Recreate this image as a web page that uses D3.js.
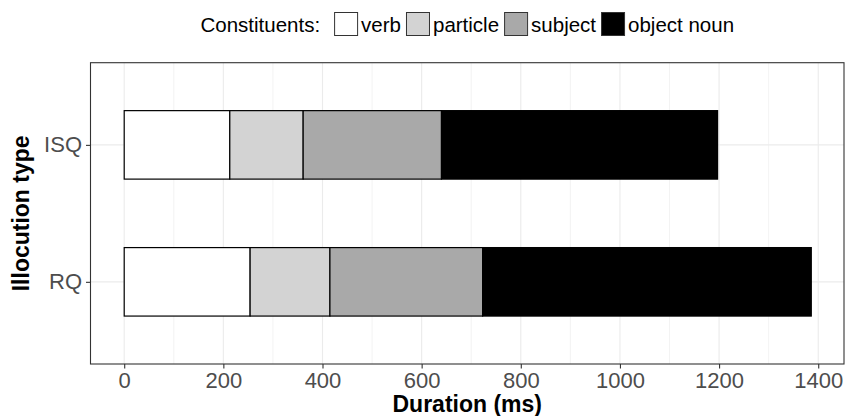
<!DOCTYPE html>
<html>
<head>
<meta charset="utf-8">
<script src="https://cdn.jsdelivr.net/npm/d3@7"></script>
<style>
  body { margin: 0; background: #fff; }
  text { font-family: "Liberation Sans", Arial, Helvetica, sans-serif; }
</style>
</head>
<body>
<div id="chart-area"></div>
<script>
// Data (durations in ms)
const illocutions = ["ISQ", "RQ"];
const constituents = ["verb", "particle", "subject", "object noun"];
const verbDur = [213, 254];
const particleDur = [148, 161];
const subjectDur = [279, 308];
const objectDur = [557, 663];
const xTicks = [0, 200, 400, 600, 800, 1000, 1200, 1400];
const xMinor = [100, 300, 500, 700, 900, 1100, 1300];

const fills = ["#ffffff", "#d3d3d3", "#a9a9a9", "#000000"];

const width = 845;
const height = 416;
const panel = { LEFT: 90.5, RIGHT: 844, TOP: 62.7, BOTTOM: 364 };

const svg = d3.select("#chart-area").append("svg")
  .attr("width", width)
  .attr("height", height);

// build rows for the stack
const rows = illocutions.map((type, i) => ({
  type: type,
  "verb": verbDur[i],
  "particle": particleDur[i],
  "subject": subjectDur[i],
  "object noun": objectDur[i]
}));
const series = d3.stack().keys(constituents)(rows);

// Scales
const x = d3.scaleLinear()
  .domain([-68, 1452])
  .range([panel.LEFT, panel.RIGHT]);
const y = d3.scalePoint()
  .domain(illocutions)
  .range([panel.TOP, panel.BOTTOM])
  .padding(0.6);
const barH = y.step() * 0.5;
const color = d3.scaleOrdinal().domain(constituents).range(fills);

// Panel background + grid
svg.append("rect")
  .attr("x", panel.LEFT).attr("y", panel.TOP)
  .attr("width", panel.RIGHT - panel.LEFT)
  .attr("height", panel.BOTTOM - panel.TOP)
  .attr("fill", "#fff");

const grid = svg.append("g");
grid.selectAll(".minor").data(xMinor).enter().append("line")
  .attr("x1", d => x(d)).attr("x2", d => x(d))
  .attr("y1", panel.TOP).attr("y2", panel.BOTTOM)
  .attr("stroke", "#ebebeb").attr("stroke-width", 0.6);
grid.selectAll(".major").data(xTicks).enter().append("line")
  .attr("x1", d => x(d)).attr("x2", d => x(d))
  .attr("y1", panel.TOP).attr("y2", panel.BOTTOM)
  .attr("stroke", "#ebebeb").attr("stroke-width", 1.1);
grid.selectAll(".hmajor").data(illocutions).enter().append("line")
  .attr("x1", panel.LEFT).attr("x2", panel.RIGHT)
  .attr("y1", d => y(d)).attr("y2", d => y(d))
  .attr("stroke", "#ebebeb").attr("stroke-width", 1.1);

// Bars
svg.append("g").selectAll("g")
  .data(series).enter().append("g")
  .attr("fill", d => color(d.key))
  .selectAll("rect")
  .data(d => d).enter().append("rect")
  .attr("x", d => x(d[0]))
  .attr("width", d => x(d[1]) - x(d[0]))
  .attr("y", d => y(d.data.type) - barH / 2)
  .attr("height", barH)
  .attr("stroke", "#000")
  .attr("stroke-width", 1.2);

// Panel border
svg.append("rect")
  .attr("x", panel.LEFT).attr("y", panel.TOP)
  .attr("width", panel.RIGHT - panel.LEFT)
  .attr("height", panel.BOTTOM - panel.TOP)
  .attr("fill", "none")
  .attr("stroke", "#333333")
  .attr("stroke-width", 1.1);

// X Axis
const xAxisCall = d3.axisBottom(x)
  .tickValues(xTicks)
  .tickSize(4.5)
  .tickPadding(4)
  .tickFormat(d3.format("d"));
const xAxis = svg.append("g")
  .attr("transform", `translate(0, ${panel.BOTTOM})`)
  .call(xAxisCall);
xAxis.select(".domain").remove();
xAxis.selectAll(".tick line").attr("stroke", "#333333").attr("stroke-width", 1.1);
xAxis.selectAll(".tick text")
  .attr("fill", "#4d4d4d")
  .attr("font-size", "22px")
  .attr("font-family", "Liberation Sans, Arial, sans-serif");

// Y Axis
const yAxisCall = d3.axisLeft(y)
  .tickSize(4.5)
  .tickPadding(4);
const yAxis = svg.append("g")
  .attr("transform", `translate(${panel.LEFT}, 0)`)
  .call(yAxisCall);
yAxis.select(".domain").remove();
yAxis.selectAll(".tick line").attr("stroke", "#333333").attr("stroke-width", 1.1);
yAxis.selectAll(".tick text")
  .attr("fill", "#4d4d4d")
  .attr("font-size", "22px")
  .attr("font-family", "Liberation Sans, Arial, sans-serif");

// Labels
svg.append("text")
  .attr("x", (panel.LEFT + panel.RIGHT) / 2)
  .attr("y", 412)
  .attr("text-anchor", "middle")
  .attr("font-size", "23px")
  .attr("font-weight", "bold")
  .text("Duration (ms)");

svg.append("text")
  .attr("transform", `translate(29, ${(panel.TOP + panel.BOTTOM) / 2}) rotate(-90)`)
  .attr("text-anchor", "middle")
  .attr("font-size", "23px")
  .attr("font-weight", "bold")
  .text("Illocution type");

// Legend
const keySize = 23;
const legend = svg.append("g");
const legendTitle = legend.append("text")
  .attr("x", 0).attr("y", 32)
  .attr("font-size", "20.5px")
  .text("Constituents:");
let cursor = legendTitle.node().getComputedTextLength() + 14;

constituents.forEach((c, i) => {
  legend.append("rect")
    .attr("x", cursor + 0.5)
    .attr("y", 12.5)
    .attr("width", keySize)
    .attr("height", keySize)
    .attr("fill", color(c))
    .attr("stroke", "#333333")
    .attr("stroke-width", 1);
  cursor += keySize + 4;
  const label = legend.append("text")
    .attr("x", cursor).attr("y", 32)
    .attr("font-size", "20.5px")
    .text(c);
  cursor += label.node().getComputedTextLength() + 5;
});
cursor -= 5;
legend.attr("transform", `translate(${(panel.LEFT + panel.RIGHT) / 2 - cursor / 2}, 0)`);
</script>
</body>
</html>
